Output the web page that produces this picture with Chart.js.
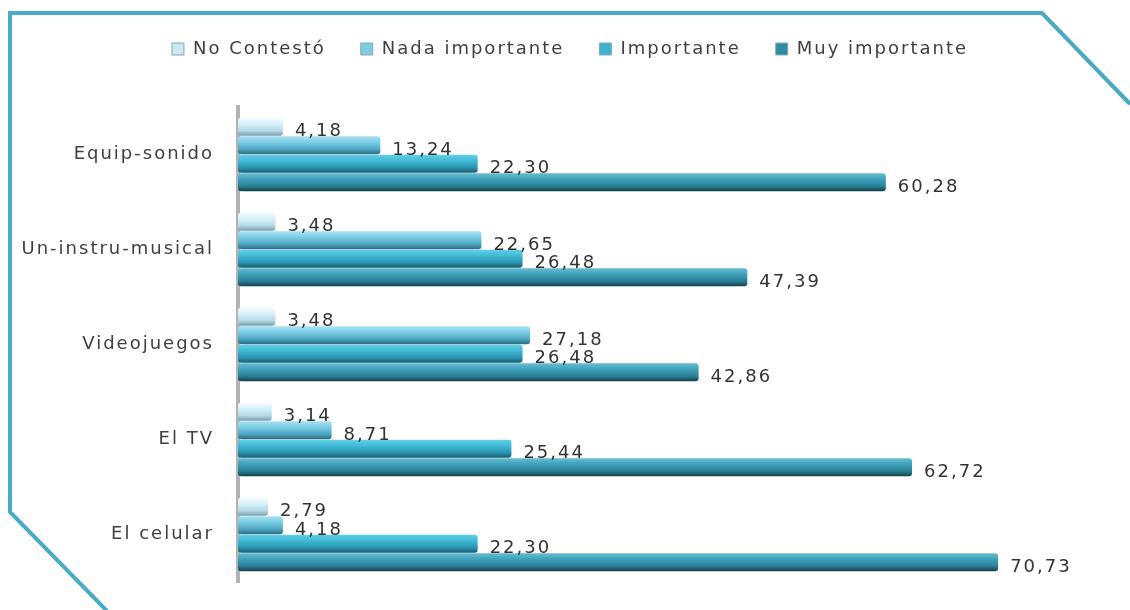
<!DOCTYPE html>
<html>
<head>
<meta charset="utf-8">
<script src="https://cdn.jsdelivr.net/npm/chart.js@4"></script>
<style>
  html, body { margin: 0; padding: 0; background: #fff; }
  #wrap { width: 1130px; height: 610px; }
</style>
</head>
<body>
<div id="wrap"><canvas id="chartCanvas" width="1130" height="610"></canvas></div>
<script>
const categories = ["Equip-sonido", "Un-instru-musical", "Videojuegos", "El TV", "El celular"];
const seriesNames = ["No Contestó", "Nada importante", "Importante", "Muy importante"];
const noContesto = [4.18, 3.48, 3.48, 3.14, 2.79];
const nadaImportante = [13.24, 22.65, 27.18, 8.71, 4.18];
const importante = [22.30, 26.48, 26.48, 25.44, 22.30];
const muyImportante = [60.28, 47.39, 42.86, 62.72, 70.73];

const legendColors = ["#cbe8f1", "#7fcbe2", "#3db3d0", "#2f8aa3"];
const gradStops = [
    ["#f4fcff", "#d6f0f8", "#b4dae6", "#7b9ca8"],
    ["#a8e2f2", "#79cbe3", "#4ea6c1", "#2b6c80"],
    ["#62cfe6", "#40b8d6", "#2994ae", "#195c6e"],
    ["#66bcd1", "#3e9fb8", "#2a7e94", "#163f4b"]
];

const CAT_PCT = 0.78;
const BAR_PCT = 0.97;

function barFill(ctx) {
    const chart = ctx.chart;
    const ds = ctx.datasetIndex;
    const y = chart.scales && chart.scales.y;
    if (!chart.chartArea || !y || ctx.dataIndex === undefined) return legendColors[ds];
    const cat = (y.bottom - y.top) / categories.length;
    const group = cat * CAT_PCT;
    const slot = group / seriesNames.length;
    const center = y.getPixelForValue(ctx.dataIndex) - group / 2 + (ds + 0.5) * slot;
    const h = slot * BAR_PCT;
    const g = chart.ctx.createLinearGradient(0, center - h / 2, 0, center + h / 2);
    const s = gradStops[ds];
    g.addColorStop(0, s[0]);
    g.addColorStop(0.35, s[1]);
    g.addColorStop(0.72, s[2]);
    g.addColorStop(1, s[3]);
    return g;
}

// letter spacing so the text keeps the wide look of the original
const spacing = {
    id: "spacing",
    beforeLayout(chart) { chart.ctx.letterSpacing = "2px"; },
    beforeDraw(chart) { chart.ctx.letterSpacing = "2px"; }
};

const frame = {
    id: "frame",
    beforeDraw(chart) {
        const c = chart.ctx;
        c.save();
        c.fillStyle = "#fff";
        c.fillRect(0, 0, chart.width, chart.height);
        c.strokeStyle = "#4aaac6";
        c.lineWidth = 4;
        c.beginPath();
        c.moveTo(1130, 104);
        c.lineTo(1042, 13);
        c.lineTo(10, 13);
        c.lineTo(10, 512);
        c.lineTo(108, 612);
        c.stroke();
        c.restore();
    }
};

const valueLabels = {
    id: "valueLabels",
    afterDatasetsDraw(chart) {
        const c = chart.ctx;
        c.save();
        c.font = "18px 'DejaVu Sans'";
        c.fillStyle = "#333";
        c.textBaseline = "middle";
        c.textAlign = "left";
        chart.data.datasets.forEach((d, i) => {
            chart.getDatasetMeta(i).data.forEach((bar, j) => {
                const txt = d.data[j].toFixed(2).replace(".", ",");
                c.fillText(txt, bar.x + 12, bar.y + 5);
            });
        });
        c.restore();
    }
};

const allSeries = [noContesto, nadaImportante, importante, muyImportante];

new Chart(document.getElementById("chartCanvas"), {
    type: "bar",
    data: {
        labels: categories,
        datasets: allSeries.map((vals, i) => ({
            label: seriesNames[i],
            data: vals,
            backgroundColor: barFill,
            borderWidth: 0,
            borderRadius: 3,
            borderSkipped: false,
            categoryPercentage: CAT_PCT,
            barPercentage: BAR_PCT
        }))
    },
    options: {
        indexAxis: "y",
        responsive: false,
        animation: false,
        layout: { padding: { top: 5, left: 10, right: 0, bottom: 28 } },
        plugins: {
            legend: {
                position: "top",
                labels: {
                    boxWidth: 12,
                    boxHeight: 12,
                    padding: 35,
                    color: "#404040",
                    font: { family: "'DejaVu Sans'", size: 18 },
                    generateLabels(chart) {
                        return seriesNames.map((n, i) => ({
                            text: n,
                            fillStyle: legendColors[i],
                            strokeStyle: "#8aa",
                            lineWidth: 1,
                            datasetIndex: i,
                            fontColor: "#404040"
                        }));
                    }
                }
            },
            tooltip: { enabled: false }
        },
        scales: {
            x: {
                position: "top",
                min: 0,
                max: 83,
                ticks: { display: false },
                grid: { display: false },
                border: { display: false },
                afterFit(s) { s.height = 39; }
            },
            y: {
                grid: { display: true, color: "rgba(0,0,0,0)", drawTicks: false },
                border: { display: true, color: "#b3b3b3", width: 4 },
                ticks: {
                    color: "#404040",
                    padding: 24,
                    font: { family: "'DejaVu Sans'", size: 18 }
                },
                afterFit(s) {
                    s.width = 228;
                    s.paddingTop = 0;
                    s.paddingBottom = 0;
                }
            }
        }
    },
    plugins: [spacing, frame, valueLabels]
});
</script>
</body>
</html>
